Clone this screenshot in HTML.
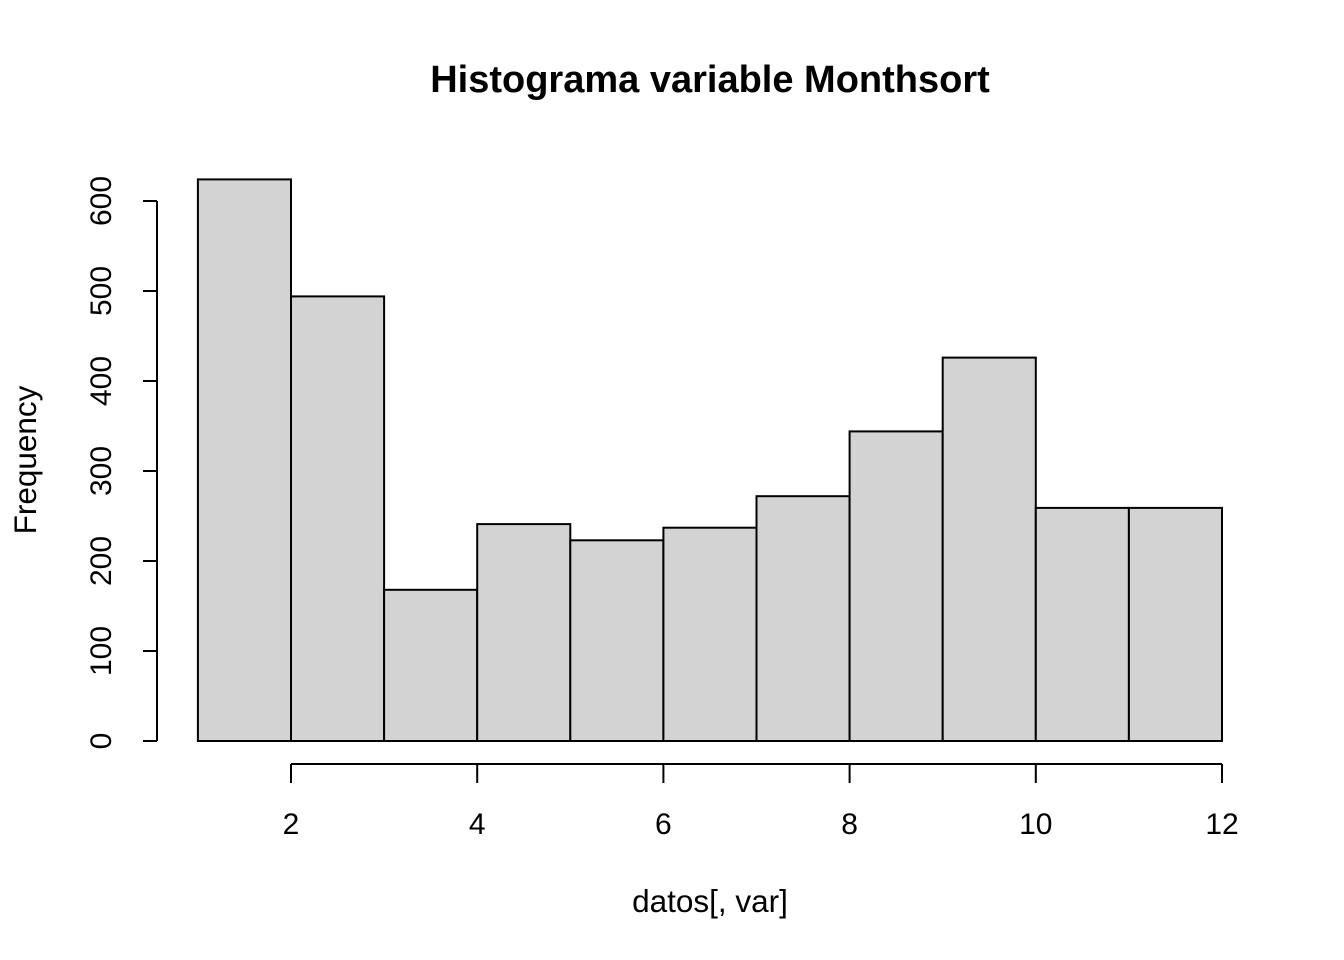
<!DOCTYPE html>
<html><head><meta charset="utf-8"><style>
html,body{margin:0;padding:0;background:#fff;}
svg{display:block;font-family:"Liberation Sans",Arial,sans-serif;}
</style></head><body>
<svg id="chart" width="1344" height="960" viewBox="0 0 1344 960">
<text x="710" y="92" text-anchor="middle" font-size="38" font-weight="bold">Histograma variable Monthsort</text>
<text x="710" y="912" text-anchor="middle" font-size="31.5">datos[, var]</text>
<text transform="translate(36,460) rotate(-90)" text-anchor="middle" font-size="31.5">Frequency</text>
<g id="bars"></g><g id="yaxis"></g><g id="xaxis"></g>
</svg>
<script>
const breaks = [1,2,3,4,5,6,7,8,9,10,11,12];
const counts = [624,494,168,241,223,237,272,344,426,259,259];
const yTicks = [0,100,200,300,400,500,600];
const xTicks = [2,4,6,8,10,12];
const NS='http://www.w3.org/2000/svg';
const sx = v => 291 + (v-2)*93.1;
const sy = v => 741 - v*0.9;
function mk(tag, attrs, parent){const e=document.createElementNS(NS,tag);for(const k in attrs)e.setAttribute(k,attrs[k]);parent.appendChild(e);return e;}
const bars=document.getElementById('bars');
counts.forEach((c,i)=>{
  const r=mk('rect',{x:sx(breaks[i]),y:sy(c),width:sx(breaks[i+1])-sx(breaks[i]),height:sy(0)-sy(c),fill:'#d3d3d3',stroke:'#000','stroke-width':2},bars);
  
  
});
const ya=document.getElementById('yaxis');
const yl=mk('line',{x1:157,x2:157,y1:sy(yTicks[0]),y2:sy(yTicks[yTicks.length-1]),stroke:'#000','stroke-width':2},ya);


yTicks.forEach(t=>{
  mk('line',{x1:143,x2:157,y1:sy(t),y2:sy(t),stroke:'#000','stroke-width':2},ya);
  const tx=mk('text',{transform:`translate(111,${sy(t)}) rotate(-90)`,'text-anchor':'middle','font-size':30},ya);
  tx.textContent=t;
  
  
});
const xa=document.getElementById('xaxis');
const xl=mk('line',{x1:sx(xTicks[0]),x2:sx(xTicks[xTicks.length-1]),y1:764,y2:764,stroke:'#000','stroke-width':2},xa);


xTicks.forEach(t=>{
  mk('line',{x1:sx(t),x2:sx(t),y1:764,y2:783,stroke:'#000','stroke-width':2},xa);
  const tx=mk('text',{x:sx(t),y:834,'text-anchor':'middle','font-size':30},xa);
  tx.textContent=t;
  
  
});
</script>
</body></html>
